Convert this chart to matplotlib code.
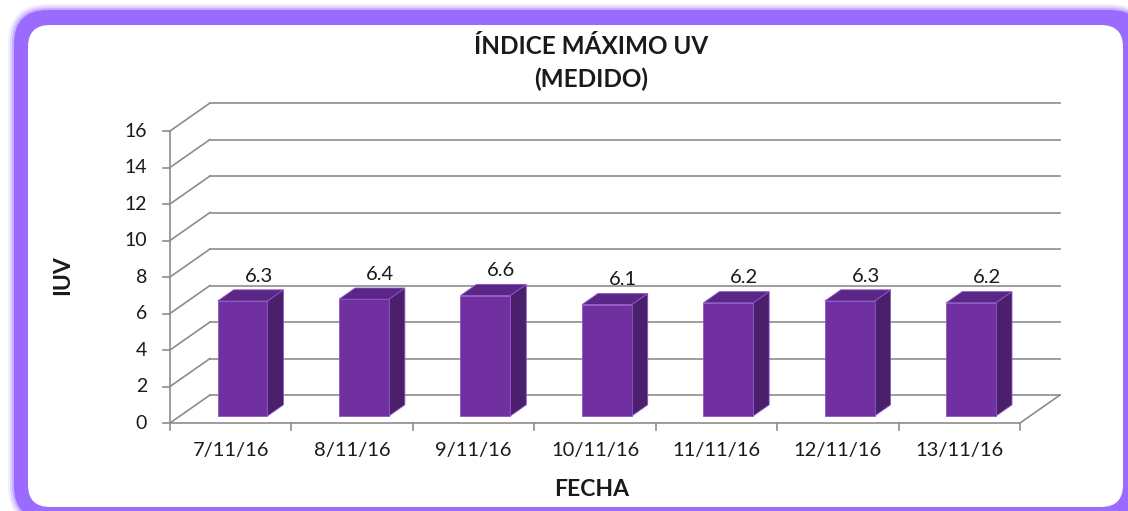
import matplotlib
matplotlib.use("Agg")
import matplotlib.pyplot as plt
from matplotlib.patches import Polygon, FancyBboxPatch

# data
fechas = ["7/11/16", "8/11/16", "9/11/16", "10/11/16", "11/11/16", "12/11/16", "13/11/16"]
iuv = [6.3, 6.4, 6.6, 6.1, 6.2, 6.3, 6.2]
y_ticks = [0, 2, 4, 6, 8, 10, 12, 14, 16]

plt.rcParams['font.family'] = ['Lato', 'DejaVu Sans']

W, H = 1128, 511
fig = plt.figure(figsize=(W / 100, H / 100), dpi=100)

# background frame (pixel coords)
bg = fig.add_axes([0, 0, 1, 1])
bg.set_xlim(0, W)
bg.set_ylim(H, 0)
bg.axis('off')
purple = '#9b6bff'
for grow, a in [(6, 0.12), (4, 0.2), (2, 0.35)]:
    bg.add_patch(FancyBboxPatch((14 - grow, 10 - grow), 1130 + 2 * grow, 510 + 2 * grow,
                                boxstyle="round,pad=0,rounding_size=%d" % (34 + grow),
                                fc=purple, ec='none', alpha=a))
bg.add_patch(FancyBboxPatch((14, 10), 1130, 510, boxstyle="round,pad=0,rounding_size=34",
                            fc=purple, ec='none'))
bg.add_patch(FancyBboxPatch((28, 25), 1095, 482, boxstyle="round,pad=0,rounding_size=22",
                            fc='white', ec='none'))

txt = '#1a1a1a'
bg.text(591, 47, "ÍNDICE MÁXIMO UV", ha='center', va='center', fontsize=17.5,
        fontweight='bold', color=txt)
bg.text(591, 79, "(MEDIDO)", ha='center', va='center', fontsize=17.5,
        fontweight='bold', color=txt)
bg.text(63, 275, "IUV", ha='center', va='center', rotation=90, fontsize=16.5,
        fontweight='bold', color=txt)
bg.text(592, 490, "FECHA", ha='center', va='center', fontsize=16.5,
        fontweight='bold', color=txt)

# main 3D-looking axes: front plane
ax = fig.add_axes([170 / W, (H - 423) / H, 850 / W, 292 / H])
ax.set_xlim(0, len(fechas))
ax.set_ylim(0, 16)
ax.axis('off')
ax.patch.set_alpha(0)

n = len(fechas)
DX = 40 / 121.43   # depth offset in category units
DY = 28 / 18.25    # depth offset in value units
grid_c = '#8c8c8c'
lw = 1.2

for v in y_ticks:
    ax.plot([0, DX], [v, v + DY], color=grid_c, lw=lw, clip_on=False, zorder=1)
    ax.plot([DX, n + DX], [v + DY, v + DY], color=grid_c, lw=lw, clip_on=False, zorder=1)
    ax.plot([-0.058, 0], [v, v], color=grid_c, lw=lw, clip_on=False, zorder=1)
    ax.text(-0.19, v, str(v), ha='right', va='center', fontsize=14, color=txt)

ax.plot([0, 0], [0, 16], color=grid_c, lw=lw, clip_on=False, zorder=1)
ax.plot([0, n, n + DX], [0, 0, DY], color=grid_c, lw=lw, clip_on=False, zorder=1)
for i in range(n + 1):
    ax.plot([i, i], [0, -0.38], color=grid_c, lw=lw, clip_on=False, zorder=1)

for i, lab in enumerate(fechas):
    ax.text(i + 0.5, -1.5, lab, ha='center', va='center', fontsize=14.5, color=txt)

# bars
d0, d1 = 0.25, 0.65
bw = 0.41
front_c, side_c, top_c = '#7030a0', '#4a1f6c', '#5a2786'
edge_c = '#8f55c8'
for i, v in enumerate(iuv):
    c = i + 0.515
    x0, x1 = c - bw / 2, c + bw / 2
    fx, fy = d0 * DX, d0 * DY
    bx, by = d1 * DX, d1 * DY
    front = [(x0 + fx, fy), (x1 + fx, fy), (x1 + fx, v + fy), (x0 + fx, v + fy)]
    side = [(x1 + fx, fy), (x1 + bx, by), (x1 + bx, v + by), (x1 + fx, v + fy)]
    top = [(x0 + fx, v + fy), (x1 + fx, v + fy), (x1 + bx, v + by), (x0 + bx, v + by)]
    ax.add_patch(Polygon(side, closed=True, fc=side_c, ec=edge_c, lw=0.6, zorder=3, clip_on=False))
    ax.add_patch(Polygon(top, closed=True, fc=top_c, ec=edge_c, lw=0.6, zorder=3, clip_on=False))
    ax.add_patch(Polygon(front, closed=True, fc=front_c, ec=edge_c, lw=0.6, zorder=4, clip_on=False))
    ax.text(c + bx, v + by + 0.45, "%.1f" % v, ha='center', va='baseline',
            fontsize=14.5, color=txt, zorder=5)

fig.savefig("out.png", dpi=100)
